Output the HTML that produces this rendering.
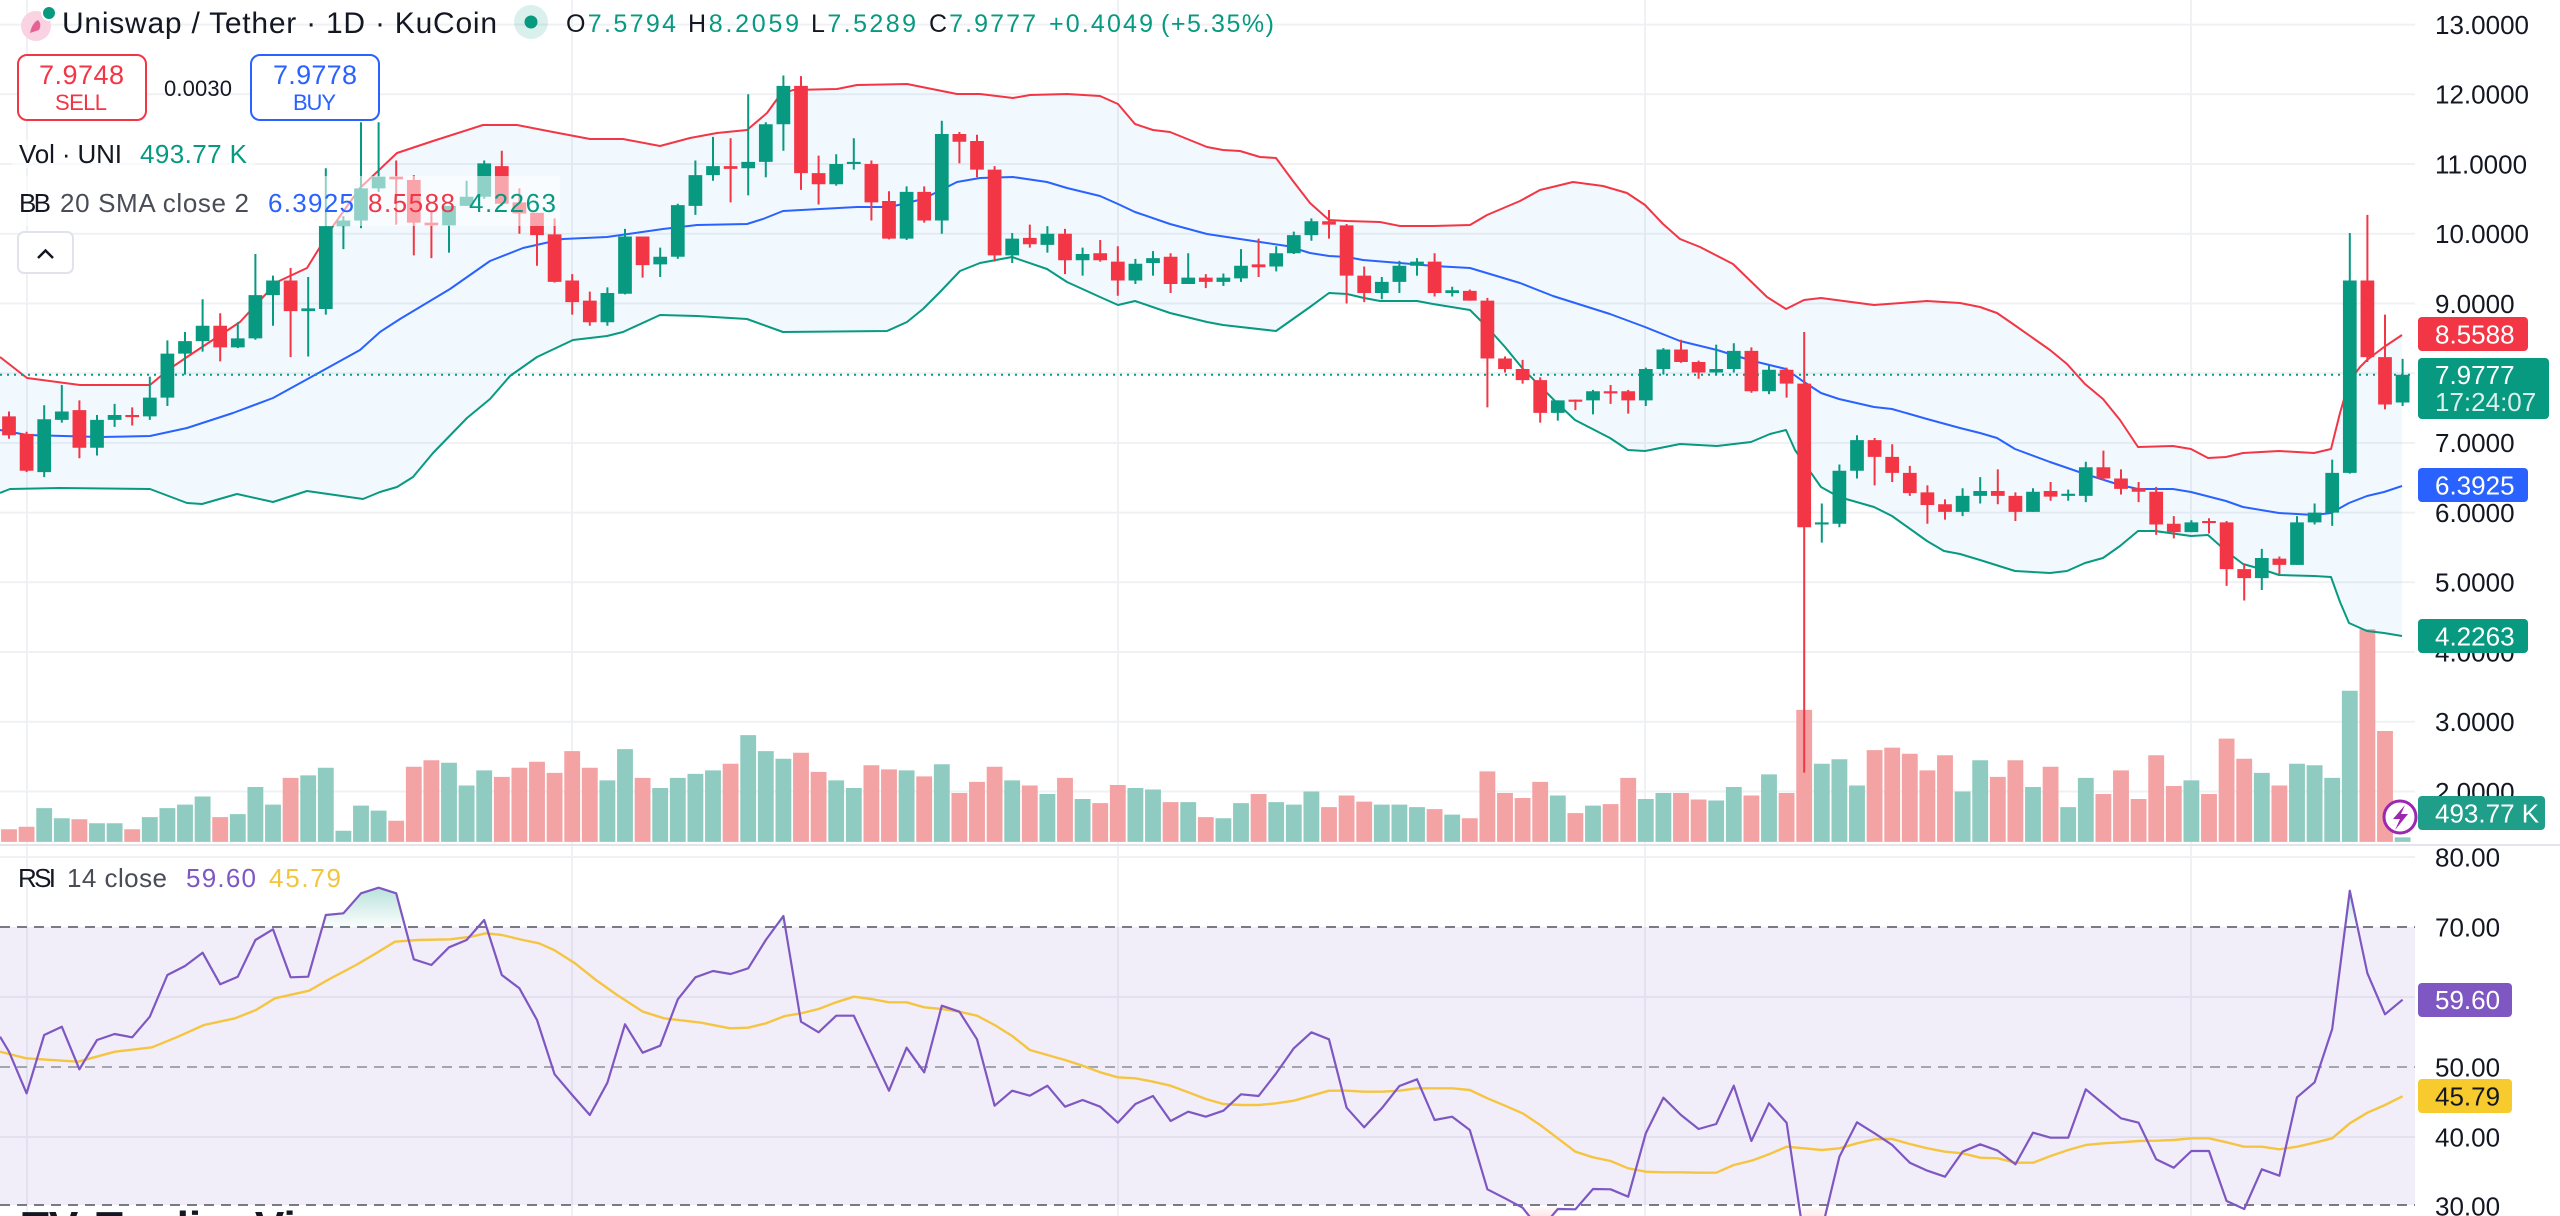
<!DOCTYPE html>
<html><head><meta charset="utf-8"><style>
html,body{margin:0;padding:0;background:#fff;width:2560px;height:1216px;overflow:hidden}
svg{display:block}
text{font-family:"Liberation Sans",Arial,sans-serif}
</style></head><body>
<svg width="2560" height="1216" viewBox="0 0 2560 1216" xmlns="http://www.w3.org/2000/svg">
<defs>
<linearGradient id="ob" x1="0" y1="0" x2="0" y2="1"><stop offset="0" stop-color="#089981" stop-opacity="0.28"/><stop offset="1" stop-color="#089981" stop-opacity="0.02"/></linearGradient>
<linearGradient id="os" x1="0" y1="0" x2="0" y2="1"><stop offset="0" stop-color="#F23645" stop-opacity="0.03"/><stop offset="1" stop-color="#F23645" stop-opacity="0.25"/></linearGradient>
</defs>
<rect width="2560" height="1216" fill="#fff"/>
<g stroke="#EFF1F5" stroke-width="2">
<path d="M0 24.6H2415M0 94.3H2415M0 164H2415M0 233.7H2415M0 303.5H2415M0 373.2H2415M0 442.9H2415M0 512.6H2415M0 582.3H2415M0 652H2415M0 721.8H2415M0 791.5H2415"/>
<path d="M27 0V1216M572 0V1216M1118 0V1216M1645 0V1216M2191 0V1216"/>
<path d="M0 857H2415M0 997H2415M0 1137H2415"/>
</g>
<g transform="matrix(17.6 0 0 0.50378 9 60)">
<path fill="#8FCBC0" d="M1.55 1485h.9V1552h-.9zM2.55 1505h.9V1552h-.9zM4.55 1515h.9V1552h-.9zM5.55 1515h.9V1552h-.9zM7.55 1503h.9V1552h-.9zM8.55 1485h.9V1552h-.9zM9.55 1478h.9V1552h-.9zM10.55 1462h.9V1552h-.9zM12.55 1497h.9V1552h-.9zM13.55 1443h.9V1552h-.9zM14.55 1478h.9V1552h-.9zM16.55 1420h.9V1552h-.9zM17.55 1405h.9V1552h-.9zM18.55 1530h.9V1552h-.9zM19.55 1480h.9V1552h-.9zM20.55 1490h.9V1552h-.9zM24.55 1395h.9V1552h-.9zM25.55 1440h.9V1552h-.9zM26.55 1410h.9V1552h-.9zM33.55 1430h.9V1552h-.9zM34.55 1368h.9V1552h-.9zM36.55 1445h.9V1552h-.9zM37.55 1425h.9V1552h-.9zM38.55 1417h.9V1552h-.9zM39.55 1410h.9V1552h-.9zM41.55 1340h.9V1552h-.9zM42.55 1372h.9V1552h-.9zM43.55 1387h.9V1552h-.9zM46.55 1430h.9V1552h-.9zM47.55 1445h.9V1552h-.9zM50.55 1410h.9V1552h-.9zM52.55 1398h.9V1552h-.9zM56.55 1430h.9V1552h-.9zM58.55 1457h.9V1552h-.9zM60.55 1467h.9V1552h-.9zM63.55 1445h.9V1552h-.9zM64.55 1448h.9V1552h-.9zM66.55 1473h.9V1552h-.9zM68.55 1505h.9V1552h-.9zM69.55 1475h.9V1552h-.9zM71.55 1473h.9V1552h-.9zM72.55 1478h.9V1552h-.9zM73.55 1452h.9V1552h-.9zM77.55 1478h.9V1552h-.9zM78.55 1478h.9V1552h-.9zM79.55 1483h.9V1552h-.9zM81.55 1498h.9V1552h-.9zM87.55 1460h.9V1552h-.9zM89.55 1480h.9V1552h-.9zM92.55 1467h.9V1552h-.9zM93.55 1455h.9V1552h-.9zM96.55 1470h.9V1552h-.9zM97.55 1443h.9V1552h-.9zM99.55 1418h.9V1552h-.9zM102.55 1397h.9V1552h-.9zM103.55 1388h.9V1552h-.9zM104.55 1440h.9V1552h-.9zM110.55 1452h.9V1552h-.9zM111.55 1390h.9V1552h-.9zM114.55 1443h.9V1552h-.9zM116.55 1483h.9V1552h-.9zM117.55 1425h.9V1552h-.9zM123.55 1430h.9V1552h-.9zM127.55 1415h.9V1552h-.9zM129.55 1397h.9V1552h-.9zM130.55 1400h.9V1552h-.9zM131.55 1425h.9V1552h-.9zM132.55 1252h.9V1552h-.9zM135.55 1543h.9V1552h-.9z"/>
<path fill="#F4A3A4" d="M-.45 1527h.9V1552h-.9zM.55 1522h.9V1552h-.9zM3.55 1507h.9V1552h-.9zM6.55 1527h.9V1552h-.9zM11.55 1503h.9V1552h-.9zM15.55 1425h.9V1552h-.9zM21.55 1510h.9V1552h-.9zM22.55 1403h.9V1552h-.9zM23.55 1390h.9V1552h-.9zM27.55 1423h.9V1552h-.9zM28.55 1405h.9V1552h-.9zM29.55 1393h.9V1552h-.9zM30.55 1415h.9V1552h-.9zM31.55 1372h.9V1552h-.9zM32.55 1405h.9V1552h-.9zM35.55 1425h.9V1552h-.9zM40.55 1397h.9V1552h-.9zM44.55 1375h.9V1552h-.9zM45.55 1413h.9V1552h-.9zM48.55 1400h.9V1552h-.9zM49.55 1408h.9V1552h-.9zM51.55 1422h.9V1552h-.9zM53.55 1455h.9V1552h-.9zM54.55 1433h.9V1552h-.9zM55.55 1403h.9V1552h-.9zM57.55 1440h.9V1552h-.9zM59.55 1425h.9V1552h-.9zM61.55 1475h.9V1552h-.9zM62.55 1439h.9V1552h-.9zM65.55 1473h.9V1552h-.9zM67.55 1503h.9V1552h-.9zM70.55 1457h.9V1552h-.9zM74.55 1483h.9V1552h-.9zM75.55 1460h.9V1552h-.9zM76.55 1472h.9V1552h-.9zM80.55 1487h.9V1552h-.9zM82.55 1505h.9V1552h-.9zM83.55 1412h.9V1552h-.9zM84.55 1455h.9V1552h-.9zM85.55 1465h.9V1552h-.9zM86.55 1433h.9V1552h-.9zM88.55 1495h.9V1552h-.9zM90.55 1477h.9V1552h-.9zM91.55 1425h.9V1552h-.9zM94.55 1455h.9V1552h-.9zM95.55 1468h.9V1552h-.9zM98.55 1460h.9V1552h-.9zM100.55 1455h.9V1552h-.9zM101.55 1290h.9V1552h-.9zM105.55 1370h.9V1552h-.9zM106.55 1365h.9V1552h-.9zM107.55 1377h.9V1552h-.9zM108.55 1410h.9V1552h-.9zM109.55 1380h.9V1552h-.9zM112.55 1423h.9V1552h-.9zM113.55 1390h.9V1552h-.9zM115.55 1403h.9V1552h-.9zM118.55 1457h.9V1552h-.9zM119.55 1410h.9V1552h-.9zM120.55 1467h.9V1552h-.9zM121.55 1380h.9V1552h-.9zM122.55 1441h.9V1552h-.9zM124.55 1457h.9V1552h-.9zM125.55 1347h.9V1552h-.9zM126.55 1387h.9V1552h-.9zM128.55 1440h.9V1552h-.9zM133.55 1130h.9V1552h-.9zM134.55 1332h.9V1552h-.9z"/>
</g>
<polygon fill="#2196F3" fill-opacity="0.06" points="0,357 27,378 80,385 150,385 168,370 187,357 240,322 277,282 307,268 333,226 360,188 397,153 433,141 483,125 517,125 553,132 590,139 623,139 660,146 690,138 717,133 747,130 767,113 780,95 793,90 837,89 857,85 907,84 957,94 980,94 1013,98 1030,95 1067,94 1100,96 1118,104 1135,124 1153,130 1170,132 1207,147 1223,150 1240,151 1260,157 1276,158 1293,181 1310,203 1329,220 1347,221 1380,222 1400,226 1433,226 1470,225 1487,215 1520,201 1540,190 1573,182 1603,186 1627,193 1645,205 1663,224 1680,239 1700,247 1733,264 1767,297 1786,309 1804,300 1821,298 1874,305 1927,301 1960,303 1980,307 1997,313 2013,324 2050,350 2067,364 2085,384 2103,399 2120,420 2138,447 2173,446 2191,449 2208,458 2226,457 2243,453 2279,451 2314,453 2331,449 2340,413 2349,382 2360,367 2367,360 2384,347 2402,335 2402,636 2384,633 2367,631 2349,623 2340,602 2331,577 2314,576 2279,575 2261,569 2243,564 2226,551 2208,535 2191,536 2155,531 2138,531 2120,546 2103,558 2085,563 2067,571 2050,573 2015,571 1980,560 1960,554 1944,551 1927,541 1892,516 1874,507 1839,497 1821,487 1804,463 1795,450 1786,430 1770,434 1751,442 1717,446 1680,444 1645,451 1628,450 1610,438 1575,420 1557,403 1523,369 1505,347 1487,327 1470,310 1433,304 1417,301 1380,301 1364,298 1347,294 1329,293 1310,307 1293,319 1276,331 1223,325 1207,322 1170,313 1135,301 1118,305 1100,297 1067,282 1047,269 1012,257 980,263 960,271 940,292 923,309 907,322 887,331 783,332 747,319 697,316 660,315 623,332 607,336 573,340 537,357 510,376 490,399 467,418 433,453 413,477 397,487 380,492 363,499 307,491 273,502 237,494 202,504 187,503 150,489 60,488 10,489 0,493"/>
<g fill="none" stroke-width="2" stroke-linejoin="round">
<polyline stroke="#F23645" points="0,357 27,378 80,385 150,385 168,370 187,357 240,322 277,282 307,268 333,226 360,188 397,153 433,141 483,125 517,125 553,132 590,139 623,139 660,146 690,138 717,133 747,130 767,113 780,95 793,90 837,89 857,85 907,84 957,94 980,94 1013,98 1030,95 1067,94 1100,96 1118,104 1135,124 1153,130 1170,132 1207,147 1223,150 1240,151 1260,157 1276,158 1293,181 1310,203 1329,220 1347,221 1380,222 1400,226 1433,226 1470,225 1487,215 1520,201 1540,190 1573,182 1603,186 1627,193 1645,205 1663,224 1680,239 1700,247 1733,264 1767,297 1786,309 1804,300 1821,298 1874,305 1927,301 1960,303 1980,307 1997,313 2013,324 2050,350 2067,364 2085,384 2103,399 2120,420 2138,447 2173,446 2191,449 2208,458 2226,457 2243,453 2279,451 2314,453 2331,449 2340,413 2349,382 2360,367 2367,360 2384,347 2402,335"/>
<polyline stroke="#2962FF" points="0,430 27,435 100,437 150,436 187,428 233,413 273,398 313,376 360,350 380,332 400,319 450,289 490,261 523,248 563,239 607,237 663,229 697,225 747,224 763,219 783,211 857,207 890,207 923,199 957,182 980,178 1013,177 1047,182 1067,188 1100,196 1118,204 1135,212 1170,224 1207,234 1240,239 1260,242 1287,246 1310,253 1329,256 1347,257 1363,260 1400,263 1434,266 1470,268 1520,283 1553,296 1610,314 1645,327 1680,341 1717,350 1753,361 1786,369 1804,382 1821,393 1839,399 1874,407 1892,409 1927,419 1960,428 1980,433 1997,438 2015,449 2050,462 2085,474 2120,485 2138,489 2173,489 2191,492 2226,501 2243,507 2279,513 2314,515 2331,513 2349,503 2367,496 2384,492 2402,486"/>
<polyline stroke="#089981" points="0,493 10,489 60,488 150,489 187,503 202,504 237,494 273,502 307,491 363,499 380,492 397,487 413,477 433,453 467,418 490,399 510,376 537,357 573,340 607,336 623,332 660,315 697,316 747,319 783,332 887,331 907,322 923,309 940,292 960,271 980,263 1012,257 1047,269 1067,282 1100,297 1118,305 1135,301 1170,313 1207,322 1223,325 1276,331 1293,319 1310,307 1329,293 1347,294 1364,298 1380,301 1417,301 1433,304 1470,310 1487,327 1505,347 1523,369 1557,403 1575,420 1610,438 1628,450 1645,451 1680,444 1717,446 1751,442 1770,434 1786,430 1795,450 1804,463 1821,487 1839,497 1874,507 1892,516 1927,541 1944,551 1960,554 1980,560 2015,571 2050,573 2067,571 2085,563 2103,558 2120,546 2138,531 2155,531 2191,536 2208,535 2226,551 2243,564 2261,569 2279,575 2314,576 2331,577 2340,602 2349,623 2367,631 2384,633 2402,636"/>
</g>
<line x1="0" y1="374.7" x2="2415" y2="374.7" stroke="#089981" stroke-width="2" stroke-dasharray="2 5"/>
<g transform="matrix(17.6 0 0 -69.72 9 930.94)">
<path fill="none" stroke="#089981" stroke-width="2" vector-effect="non-scaling-stroke" d="M2 7.54V6.51M3 7.83V7.29M5 7.40V6.82M6 7.56V7.23M8 7.95V7.33M9 8.47V7.53M10 8.59V7.98M11 9.06V8.31M13 8.73V8.36M14 9.71V8.48M15 9.40V8.68M17 9.38V8.24M18 10.94V8.84M19 10.25V9.78M20 11.6V10.08M21 11.6V10.6M25 10.40V9.73M26 10.76V10.40M27 11.05V10.5M34 9.23V8.68M35 10.07V9.13M37 9.80V9.38M38 10.43V9.64M39 11.05V10.27M40 11.39V10.76M42 12.0V10.55M43 11.60V10.81M44 12.27V11.19M47 11.14V10.69M48 11.37V10.92M51 10.68V9.91M53 11.62V10.0M57 10.01V9.58M59 10.11V9.73M61 9.80V9.40M64 9.64V9.28M65 9.75V9.40M67 9.72V9.28M69 9.43V9.25M70 9.78V9.31M72 9.82V9.46M73 10.03V9.71M74 10.22V9.90M78 9.38V9.06M79 9.61V9.15M80 9.65V9.40M82 9.24V9.10M88 7.61V7.32M90 7.76V7.41M93 8.08V7.53M94 8.36V7.98M97 8.41V7.98M98 8.43V8.01M100 8.11V7.70M103 6.13V5.57M104 6.69V5.79M105 7.11V6.49M111 6.35V5.95M112 6.51V6.13M115 6.35V6.01M117 6.33V6.17M118 6.73V6.15M124 5.89V5.72M128 5.48V4.89M130 5.95V5.25M131 6.13V5.83M132 6.76V5.81M133 10.01V6.56M136 8.2059V7.5289"/>
<path fill="none" stroke="#F23645" stroke-width="2" vector-effect="non-scaling-stroke" d="M0 7.45V7.06M1 7.16V6.58M4 7.61V6.78M7 7.51V7.25M12 8.86V8.17M16 9.51V8.23M22 11.05V10.13M23 10.84V9.69M24 10.32V9.65M28 11.19V10.40M29 10.65V10.0M30 10.30V9.54M31 10.22V9.30M32 9.42V8.84M33 9.17V8.68M36 9.96V9.37M41 11.37V10.45M45 12.26V10.63M46 11.12V10.42M49 11.05V10.19M50 10.61V9.92M52 10.68V10.16M54 11.46V11.01M55 11.42V10.81M56 10.97V9.60M58 10.13V9.80M60 10.07V9.42M62 9.91V9.60M63 9.82V9.11M66 9.72V9.15M68 9.42V9.22M71 9.93V9.38M75 10.34V9.93M76 10.14V9.0M77 9.53V9.02M81 9.72V9.10M83 9.20V9.04M84 9.08V7.51M85 8.24V8.01M86 8.19V7.85M87 7.94V7.29M89 7.62V7.47M91 7.83V7.56M92 7.76V7.42M95 8.48V8.15M96 8.18V7.92M99 8.37V7.72M101 8.08V7.65M102 8.59V2.27M106 7.07V6.39M107 6.98V6.44M108 6.67V6.24M109 6.39V5.84M110 6.19V5.90M113 6.62V6.12M114 6.29V5.88M116 6.44V6.17M119 6.89V6.46M120 6.62V6.26M121 6.44V6.15M122 6.37V5.68M123 5.95V5.63M125 5.92V5.70M126 5.88V4.95M127 5.27V4.74M129 5.37V5.12M134 10.27V8.16M135 8.84V7.48"/>
<path fill="#089981" d="M1.61 6.58h.78V7.34h-.78zM2.61 7.33h.78V7.45h-.78zM4.61 6.93h.78V7.33h-.78zM5.61 7.33h.78V7.40h-.78zM7.61 7.38h.78V7.65h-.78zM8.61 7.65h.78V8.28h-.78zM9.61 8.28h.78V8.46h-.78zM10.61 8.46h.78V8.68h-.78zM12.61 8.37h.78V8.50h-.78zM13.61 8.50h.78V9.12h-.78zM14.61 9.12h.78V9.33h-.78zM16.61 8.89h.78V8.93h-.78zM17.61 8.92h.78V10.11h-.78zM18.61 10.11h.78V10.19h-.78zM19.61 10.19h.78V10.65h-.78zM20.61 10.65h.78V10.82h-.78zM24.61 10.12h.78V10.40h-.78zM25.61 10.40h.78V10.53h-.78zM26.61 10.53h.78V11.01h-.78zM33.61 8.73h.78V9.15h-.78zM34.61 9.14h.78V9.96h-.78zM36.61 9.56h.78V9.67h-.78zM37.61 9.67h.78V10.41h-.78zM38.61 10.40h.78V10.84h-.78zM39.61 10.84h.78V10.97h-.78zM41.61 10.94h.78V11.03h-.78zM42.61 11.03h.78V11.57h-.78zM43.61 11.57h.78V12.12h-.78zM46.61 10.71h.78V11.0h-.78zM47.61 11.0h.78V11.03h-.78zM50.61 9.93h.78V10.60h-.78zM52.61 10.19h.78V11.43h-.78zM56.61 9.69h.78V9.93h-.78zM58.61 9.84h.78V10.0h-.78zM60.61 9.62h.78V9.71h-.78zM63.61 9.33h.78V9.57h-.78zM64.61 9.58h.78V9.65h-.78zM66.61 9.28h.78V9.37h-.78zM68.61 9.31h.78V9.37h-.78zM69.61 9.36h.78V9.54h-.78zM71.61 9.53h.78V9.72h-.78zM72.61 9.72h.78V9.98h-.78zM73.61 9.98h.78V10.18h-.78zM77.61 9.15h.78V9.31h-.78zM78.61 9.31h.78V9.54h-.78zM79.61 9.54h.78V9.60h-.78zM81.61 9.15h.78V9.19h-.78zM87.61 7.43h.78V7.61h-.78zM89.61 7.61h.78V7.74h-.78zM92.61 7.61h.78V8.06h-.78zM93.61 8.06h.78V8.34h-.78zM96.61 8.01h.78V8.06h-.78zM97.61 8.06h.78V8.32h-.78zM99.61 7.74h.78V8.05h-.78zM102.61 5.83h.78V5.86h-.78zM103.61 5.84h.78V6.60h-.78zM104.61 6.60h.78V7.04h-.78zM110.61 6.01h.78V6.24h-.78zM111.61 6.24h.78V6.31h-.78zM114.61 6.01h.78V6.30h-.78zM116.61 6.24h.78V6.27h-.78zM117.61 6.24h.78V6.65h-.78zM123.61 5.72h.78V5.86h-.78zM127.61 5.06h.78V5.35h-.78zM129.61 5.25h.78V5.86h-.78zM130.61 5.86h.78V6.0h-.78zM131.61 6.0h.78V6.57h-.78zM132.61 6.57h.78V9.33h-.78zM135.61 7.5794h.78V7.9777h-.78z"/>
<path fill="#F23645" d="M-.39 7.38h.78V7.11h-.78zM.61 7.13h.78V6.60h-.78zM3.61 7.47h.78V6.93h-.78zM6.61 7.40h.78V7.37h-.78zM11.61 8.68h.78V8.37h-.78zM15.61 9.33h.78V8.89h-.78zM21.61 10.82h.78V10.78h-.78zM22.61 10.77h.78V10.16h-.78zM23.61 10.16h.78V10.12h-.78zM27.61 10.97h.78V10.43h-.78zM28.61 10.45h.78V10.29h-.78zM29.61 10.30h.78V9.98h-.78zM30.61 9.99h.78V9.31h-.78zM31.61 9.33h.78V9.02h-.78zM32.61 9.04h.78V8.73h-.78zM35.61 9.96h.78V9.55h-.78zM40.61 10.97h.78V10.93h-.78zM44.61 12.12h.78V10.87h-.78zM45.61 10.87h.78V10.71h-.78zM48.61 11.0h.78V10.45h-.78zM49.61 10.47h.78V9.93h-.78zM51.61 10.60h.78V10.19h-.78zM53.61 11.43h.78V11.32h-.78zM54.61 11.33h.78V10.92h-.78zM55.61 10.92h.78V9.69h-.78zM57.61 9.94h.78V9.85h-.78zM59.61 10.0h.78V9.62h-.78zM61.61 9.72h.78V9.62h-.78zM62.61 9.60h.78V9.33h-.78zM65.61 9.67h.78V9.28h-.78zM67.61 9.37h.78V9.31h-.78zM70.61 9.56h.78V9.52h-.78zM74.61 10.18h.78V10.13h-.78zM75.61 10.12h.78V9.40h-.78zM76.61 9.40h.78V9.15h-.78zM80.61 9.60h.78V9.15h-.78zM82.61 9.18h.78V9.04h-.78zM83.61 9.04h.78V8.21h-.78zM84.61 8.21h.78V8.06h-.78zM85.61 8.06h.78V7.90h-.78zM86.61 7.90h.78V7.43h-.78zM88.61 7.62h.78V7.59h-.78zM90.61 7.74h.78V7.71h-.78zM91.61 7.74h.78V7.61h-.78zM94.61 8.34h.78V8.16h-.78zM95.61 8.16h.78V8.01h-.78zM98.61 8.32h.78V7.74h-.78zM100.61 8.05h.78V7.85h-.78zM101.61 7.85h.78V5.79h-.78zM105.61 7.04h.78V6.80h-.78zM106.61 6.80h.78V6.57h-.78zM107.61 6.57h.78V6.28h-.78zM108.61 6.29h.78V6.11h-.78zM109.61 6.12h.78V6.01h-.78zM112.61 6.31h.78V6.24h-.78zM113.61 6.24h.78V6.01h-.78zM115.61 6.31h.78V6.23h-.78zM118.61 6.65h.78V6.49h-.78zM119.61 6.49h.78V6.34h-.78zM120.61 6.35h.78V6.30h-.78zM121.61 6.30h.78V5.83h-.78zM122.61 5.84h.78V5.72h-.78zM124.61 5.88h.78V5.85h-.78zM125.61 5.86h.78V5.19h-.78zM126.61 5.19h.78V5.06h-.78zM128.61 5.34h.78V5.25h-.78zM133.61 9.33h.78V8.23h-.78zM134.61 8.23h.78V7.55h-.78z"/>
</g>
<rect x="12" y="176" width="548" height="50" fill="#fff" fill-opacity="0.55"/>
<rect x="12" y="140" width="243" height="28" fill="#fff" fill-opacity="0.55"/>
<line x1="0" y1="845" x2="2560" y2="845" stroke="#E3E5EB" stroke-width="2"/>
<rect x="0" y="927" width="2415" height="278" fill="#7E57C2" fill-opacity="0.1"/>
<g stroke-width="2" fill="none">
<line x1="0" y1="927" x2="2415" y2="927" stroke="#787B86" stroke-dasharray="10 7"/>
<line x1="0" y1="1067" x2="2415" y2="1067" stroke="#A3A6AF" stroke-dasharray="10 7"/>
<line x1="0" y1="1205" x2="2415" y2="1205" stroke="#787B86" stroke-dasharray="10 7"/>
</g>
<polygon fill="url(#ob)" points="322.4,927 325.8,915 343.4,913.3 361,893.3 378.6,887.7 396.2,893.3 405.2,927"/>
<polygon fill="url(#ob)" points="775.3,927 783.4,916 785.2,927"/>
<polygon fill="url(#ob)" points="2345.2,927 2349.8,890.7 2357.5,927"/>
<polygon fill="url(#os)" points="1521.4,1207 1522.6,1207.7 1540.2,1230 1557.8,1209 1575.4,1209.3 1577.3,1207"/>
<polygon fill="url(#os)" points="1799.3,1207 1804.2,1240 1821.8,1230 1827.3,1207"/>
<g transform="matrix(17.6 0 0 1 9 0)" fill="none" stroke-linejoin="round">
<polyline vector-effect="non-scaling-stroke" stroke="#F5C542" stroke-width="2.4" points="-0.51,1051.7 0.97,1058.3 3.92,1061.7 6.02,1051.7 8.13,1047.3 9.6,1036.7 11.08,1025 12.84,1018.3 14.03,1010 15.11,998.3 17.05,990.7 18.18,979.3 19.72,965 20.91,952.7 21.93,941.7 23.24,940 25.06,939.3 26.25,936.7 27.1,933.3 28.01,935 29.2,940 30.11,943.3 30.97,950 32.16,963.3 33.35,980 34.55,995 36.02,1011.7 37.22,1018.3 39.32,1022.7 40.97,1028.3 41.99,1027.7 43.01,1023.3 44.09,1016 45,1013.3 46,1009 47,1002.3 48,996.7 49,999 50,1002.3 51,1002.3 52,1007.3 53,1009 54,1011.7 55,1015.7 56,1025 57,1036 58,1050 59,1055 60,1060 61,1065.7 62,1072.3 63,1077.3 64,1078.3 65,1081.7 66,1085.7 67,1092.3 68,1099 69,1104 70,1105 71,1105 72,1103.3 73,1100.7 74,1095.7 75,1090.7 76,1090.7 77,1091.7 78,1091.7 79,1090.7 80,1088.3 81,1088.3 82,1088.3 83,1090 84,1098.3 85,1105.7 86,1113.3 87,1125 88,1138.3 89,1151.7 90,1157.3 91,1161 92,1168.3 93,1171.7 94,1172.3 95,1172.3 96,1172.7 97,1172.7 98,1165 99,1160.7 100,1154.3 101,1146.7 102,1148.3 103,1150 104,1148.3 105,1143.3 106,1139.3 107,1139 108,1144 109,1148.3 110,1151.7 111,1153.3 112,1157.7 113,1158.3 114,1162.7 115,1162.7 116,1156 117,1150 118,1145 119,1143.3 120,1142.3 121,1141 122,1140.7 123,1140 124,1138.3 125,1138.3 126,1142.3 127,1146.7 128,1146.7 129,1149.3 130,1146.7 131,1142.7 132,1138.3 133,1123.3 134,1112.7 135,1105 136,1096.2"/>
<polyline vector-effect="non-scaling-stroke" stroke="#7E57C2" stroke-width="2.2" points="-0.51,1036.7 0,1051.7 1,1093.3 2,1035 3,1026.7 4,1069.3 5,1040 6,1034 7,1037.3 8,1016.7 9,975 10,966 11,952.7 12,984.3 13,976.7 14,940 15,929.3 16,977.3 17,976.7 18,915 19,913.3 20,893.3 21,887.7 22,893.3 23,959.3 24,965 25,947.3 26,940 27,920 28,975 29,988.3 30,1020 31,1074.3 32,1095 33,1115 34,1082.7 35,1024.3 36,1052.7 37,1045.7 38,999.3 39,977.3 40,971 41,974 42,968.3 43,940 44,916 45,1021.7 46,1032.3 47,1015.7 48,1015.7 49,1053.3 50,1090.7 51,1047.7 52,1072.3 53,1005.7 54,1011.7 55,1039.3 56,1105.7 57,1090.7 58,1095.7 59,1085.7 60,1106.7 61,1100 62,1106.7 63,1122.7 64,1104 65,1096 66,1121 67,1111.7 68,1116.7 69,1110.7 70,1094.3 71,1096 72,1073.3 73,1048.3 74,1032.3 75,1039.3 76,1107.7 77,1127.3 78,1108.3 79,1086 80,1079.3 81,1120 82,1116.7 83,1130 84,1189.3 85,1198.3 86,1207.7 87,1230 88,1209 89,1209.3 90,1189 91,1189.3 92,1196.7 93,1133.3 94,1097.7 95,1115 96,1129 97,1124 98,1085.7 99,1141 100,1103.3 101,1122.7 102,1240 103,1230 104,1156.7 105,1122.3 106,1133.3 107,1145 108,1162.7 109,1170.7 110,1176.7 111,1151.7 112,1144.3 113,1150.7 114,1164.3 115,1132.7 116,1137.7 117,1137.7 118,1089.3 119,1104 120,1118.3 121,1122.7 122,1159.3 123,1167.7 124,1151 125,1151 126,1201 127,1209 128,1169.3 129,1175.7 130,1097.3 131,1082.3 132,1029 133,890.7 134,973.3 135,1014.3 136,999.7"/>
</g>
<!-- watermark -->
<text x="22" y="1242" font-size="44" font-weight="bold" fill="#131722">TV</text>
<text x="96" y="1242" font-size="44" font-weight="bold" fill="#131722">TradingView</text>
<!-- header -->
<circle cx="36" cy="26" r="15" fill="#F9D3E1"/>
<path d="M30 33 q2 -10 8 -13 q4 4 1 10 z" fill="#E4457F" opacity="0.8"/>
<circle cx="49" cy="13" r="7" fill="#089981" stroke="#fff" stroke-width="2"/>
<text x="62" y="33" font-size="30" fill="#131722" textLength="435" lengthAdjust="spacing">Uniswap / Tether · 1D · KuCoin</text>
<circle cx="531" cy="22" r="17" fill="#089981" fill-opacity="0.15"/>
<circle cx="531" cy="22" r="6.5" fill="#089981"/>
<g font-size="25">
<text x="566" y="32" textLength="110"><tspan fill="#131722">O</tspan><tspan fill="#089981">7.5794</tspan></text>
<text x="688" y="32" textLength="111"><tspan fill="#131722">H</tspan><tspan fill="#089981">8.2059</tspan></text>
<text x="811" y="32" textLength="105"><tspan fill="#131722">L</tspan><tspan fill="#089981">7.5289</tspan></text>
<text x="929" y="32" textLength="107"><tspan fill="#131722">C</tspan><tspan fill="#089981">7.9777</tspan></text>
<text x="1049" y="32" textLength="104" fill="#089981">+0.4049</text>
<text x="1161" y="32" textLength="113" fill="#089981">(+5.35%)</text>
</g>
<rect x="18" y="55" width="128" height="65" rx="9" fill="#fff" stroke="#F23645" stroke-width="2"/>
<text x="39" y="84" font-size="27" fill="#F23645" textLength="85">7.9748</text>
<text x="55" y="110" font-size="22" fill="#F23645" textLength="52">SELL</text>
<text x="164" y="96" font-size="22" fill="#131722" textLength="68">0.0030</text>
<rect x="251" y="55" width="128" height="65" rx="9" fill="#fff" stroke="#2962FF" stroke-width="2"/>
<text x="273" y="84" font-size="27" fill="#2962FF" textLength="84">7.9778</text>
<text x="293" y="110" font-size="22" fill="#2962FF" textLength="43">BUY</text>
<text x="19" y="163" font-size="26" fill="#131722" textLength="103">Vol · UNI</text>
<text x="140" y="163" font-size="26" fill="#089981" textLength="107">493.77 K</text>
<text x="19" y="212" font-size="26" fill="#131722" textLength="32">BB</text>
<text x="60" y="212" font-size="26" fill="#4A4D57" textLength="189">20 SMA close 2</text>
<text x="268" y="212" font-size="26" fill="#2962FF" textLength="86">6.3925</text>
<text x="368" y="212" font-size="26" fill="#F23645" textLength="87">8.5588</text>
<text x="469" y="212" font-size="26" fill="#089981" textLength="87">4.2263</text>
<rect x="18" y="232" width="55" height="41" rx="6" fill="#fff" stroke="#E0E3EB" stroke-width="2"/>
<polyline points="38,258 45.5,250.5 53,258" fill="none" stroke="#131722" stroke-width="2.5"/>
<text x="18" y="887" font-size="26" fill="#131722" textLength="38">RSI</text>
<text x="67" y="887" font-size="26" fill="#4A4D57" textLength="100">14 close</text>
<text x="186" y="887" font-size="26" fill="#7E57C2" textLength="70">59.60</text>
<text x="269" y="887" font-size="26" fill="#F2C53D" textLength="72">45.79</text>
<!-- axis labels -->
<g font-size="26" fill="#131722">
<text x="2435" y="33.9">13.0000</text>
<text x="2435" y="103.6">12.0000</text>
<text x="2435" y="173.3">11.0000</text>
<text x="2435" y="243">10.0000</text>
<text x="2435" y="312.8">9.0000</text>
<text x="2435" y="452.2">7.0000</text>
<text x="2435" y="521.9">6.0000</text>
<text x="2435" y="591.6">5.0000</text>
<text x="2435" y="661.3">4.0000</text>
<text x="2435" y="731.1">3.0000</text>
<text x="2435" y="800.8">2.0000</text>
<text x="2435" y="866.3">80.00</text>
<text x="2435" y="936.3">70.00</text>
<text x="2435" y="1006.3">60.00</text>
<text x="2435" y="1076.3">50.00</text>
<text x="2435" y="1146.3">40.00</text>
<text x="2435" y="1215.5">30.00</text>
</g>
<rect x="2418" y="317" width="110" height="34" rx="4" fill="#F23645"/>
<text x="2435" y="343.5" font-size="26" fill="#fff">8.5588</text>
<rect x="2418" y="358" width="131" height="61" rx="4" fill="#089981"/>
<text x="2435" y="384" font-size="26" fill="#fff">7.9777</text>
<text x="2435" y="411" font-size="26" fill="#fff" fill-opacity="0.85">17:24:07</text>
<rect x="2418" y="468" width="110" height="34" rx="4" fill="#2962FF"/>
<text x="2435" y="494.6" font-size="26" fill="#fff">6.3925</text>
<rect x="2418" y="619" width="110" height="34" rx="4" fill="#089981"/>
<text x="2435" y="645.6" font-size="26" fill="#fff">4.2263</text>
<circle cx="2400" cy="817" r="16" fill="#fff" stroke="#9C27B0" stroke-width="3"/>
<polygon points="2405,805 2393,819 2400,819 2395,830 2408,814 2401,814" fill="#9C27B0"/>
<rect x="2418" y="796" width="127" height="34" rx="4" fill="#1F9E89"/>
<text x="2435" y="822.3" font-size="26" fill="#fff">493.77 K</text>
<rect x="2418" y="983" width="94" height="34" rx="4" fill="#7E57C2"/>
<text x="2435" y="1009" font-size="26" fill="#fff">59.60</text>
<rect x="2418" y="1079" width="94" height="34" rx="4" fill="#F7CB2D"/>
<text x="2435" y="1105.5" font-size="26" fill="#131722">45.79</text>
</svg>
</body></html>
